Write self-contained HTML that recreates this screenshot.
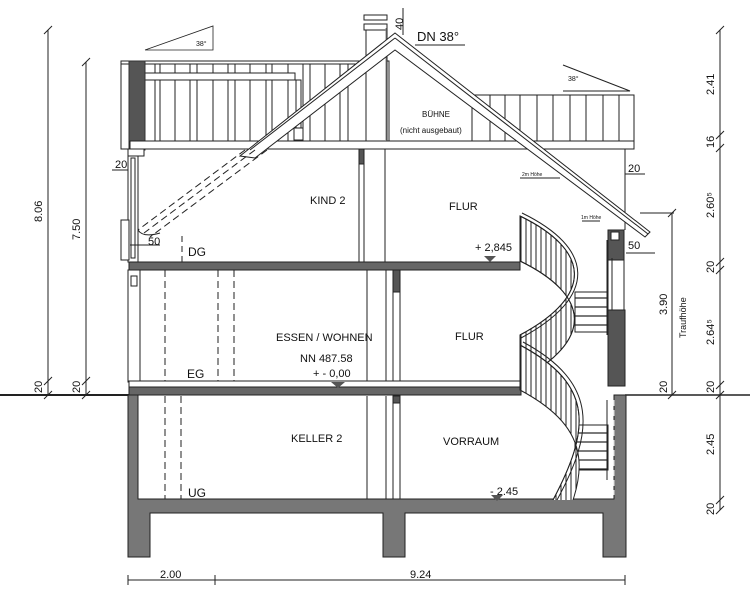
<!DOCTYPE html>
<html><head><meta charset="utf-8"><style>
html,body{margin:0;padding:0;background:#fff}
svg{display:block}
text{font-family:"Liberation Sans",sans-serif;fill:#111}
</style></head><body>
<svg width="750" height="600" viewBox="0 0 750 600" xmlns="http://www.w3.org/2000/svg">
<defs>
<pattern id="vl" width="5" height="10" patternUnits="userSpaceOnUse"><rect width="5" height="10" fill="#fff"/><line x1="1" y1="0" x2="1" y2="10" stroke="#222" stroke-width="1"/></pattern>
<pattern id="hl" width="10" height="9" patternUnits="userSpaceOnUse"><rect width="10" height="9" fill="#fff"/><line x1="0" y1="1" x2="10" y2="1" stroke="#222" stroke-width="1.2"/></pattern>
<clipPath id="stc"><rect x="519" y="210" width="90" height="290"/></clipPath>
</defs>
<g stroke="#222" stroke-width="1" fill="none">
<line x1="0" y1="395" x2="130" y2="395" stroke-width="2"/>
<line x1="625" y1="395" x2="750" y2="395" stroke-width="1.5"/>

<rect x="121" y="61" width="268" height="88" fill="#fff"/>
<g stroke-width="1">
<line x1="155" y1="64" x2="155" y2="141"/><line x1="160" y1="64" x2="160" y2="141"/>
<line x1="175" y1="64" x2="175" y2="141"/><line x1="190" y1="64" x2="190" y2="141"/>
<line x1="197" y1="64" x2="197" y2="141"/><line x1="213" y1="64" x2="213" y2="141"/>
<line x1="228" y1="64" x2="228" y2="141"/><line x1="235" y1="64" x2="235" y2="141"/>
<line x1="250" y1="64" x2="250" y2="141"/><line x1="266" y1="64" x2="266" y2="141"/>
<line x1="272" y1="64" x2="272" y2="141"/><line x1="288" y1="64" x2="288" y2="141"/>
<line x1="303" y1="64" x2="303" y2="141"/><line x1="310" y1="64" x2="310" y2="141"/>
<line x1="325" y1="64" x2="325" y2="141"/><line x1="340" y1="64" x2="340" y2="141"/>
<line x1="348" y1="64" x2="348" y2="141"/>
</g>
<line x1="121" y1="64" x2="365" y2="64"/>
<rect x="140" y="73" width="155" height="7" fill="#fff"/>
<rect x="129" y="61" width="16" height="89" fill="#555" stroke="#333"/>
<rect x="296" y="80" width="5" height="57" fill="#fff"/>
<rect x="294" y="128" width="9" height="12" fill="#fff"/>

<rect x="472" y="95" width="162" height="52" fill="#fff"/>
<g><line x1="490" y1="95" x2="490" y2="147"/><line x1="505" y1="95" x2="505" y2="147"/><line x1="520" y1="95" x2="520" y2="147"/><line x1="537" y1="95" x2="537" y2="147"/><line x1="553" y1="95" x2="553" y2="147"/><line x1="570" y1="95" x2="570" y2="147"/><line x1="586" y1="95" x2="586" y2="147"/><line x1="603" y1="95" x2="603" y2="147"/><line x1="619" y1="95" x2="619" y2="147"/></g>

<rect x="130" y="141" width="504" height="8" fill="#fff"/>
<line x1="625" y1="149" x2="625" y2="230"/>

<rect x="366" y="28" width="21" height="113" fill="#fff"/>
<rect x="364" y="15" width="23" height="5" fill="#fff"/>
<rect x="364" y="24" width="23" height="6" fill="#fff"/>
<line x1="386" y1="28" x2="386" y2="141" stroke="#888"/>

<polygon points="395,33 650,232 645,237 395,50 255,158 240,156" fill="#fff"/>
<line x1="395" y1="38" x2="648" y2="234"/>
<line x1="395" y1="38" x2="250" y2="150"/>
<g stroke-dasharray="7,4">
<line x1="255" y1="150" x2="144" y2="233"/>
<line x1="267" y1="150" x2="150" y2="237"/>
<line x1="245" y1="150" x2="138" y2="230"/>
</g>
<path d="M138 230 Q143 238 160 233" />
<line x1="182" y1="236" x2="182" y2="262" stroke-dasharray="6,4"/>

<rect x="128" y="149" width="10" height="113" fill="#fff"/>
<rect x="131" y="158" width="4" height="100" fill="#fff"/>
<rect x="121" y="220" width="8" height="40" fill="#fff"/>
<rect x="128" y="149" width="16" height="7" fill="#fff"/>

<rect x="359" y="149" width="5" height="113" fill="#fff"/>
<rect x="359" y="149" width="5" height="15" fill="#555"/>
<line x1="385" y1="149" x2="385" y2="262"/>

<rect x="608" y="230" width="16" height="30" fill="#555"/>
<rect x="611" y="232" width="8" height="8" fill="#fff"/>
<line x1="608" y1="258" x2="608" y2="310"/><line x1="624" y1="258" x2="624" y2="310"/>
<line x1="612" y1="258" x2="612" y2="310"/>

<rect x="129" y="262" width="391" height="8" fill="#666" stroke="#222"/>

<rect x="128" y="270" width="12" height="112" fill="#fff"/>
<rect x="131" y="276" width="6" height="10" fill="#fff"/>
<line x1="165" y1="270" x2="165" y2="381" stroke-dasharray="7,4"/>
<line x1="218" y1="270" x2="218" y2="381" stroke-dasharray="7,4"/>
<line x1="234" y1="270" x2="234" y2="381" stroke-dasharray="7,4"/>
<line x1="367" y1="270" x2="367" y2="381"/>
<rect x="393" y="270" width="7" height="111" fill="#fff"/>
<rect x="393" y="270" width="7" height="22" fill="#555"/>
<line x1="386" y1="270" x2="386" y2="381"/>
<rect x="608" y="310" width="17" height="76" fill="#555"/>

<rect x="129" y="381" width="392" height="6" fill="#fff"/>
<rect x="129" y="387" width="392" height="8" fill="#666"/>

<path d="M128 395 H138 V499 H614 V395 H626 V557 H603 V513 H405 V557 H383 V513 H150 V557 H128 Z" fill="#777" stroke="#222"/>
<line x1="614" y1="400" x2="614" y2="495" stroke="#ddd" stroke-dasharray="6,4"/>
<line x1="165" y1="396" x2="165" y2="499" stroke-dasharray="7,4"/>
<line x1="181" y1="396" x2="181" y2="499" stroke-dasharray="7,4"/>
<line x1="367" y1="396" x2="367" y2="499"/>
<line x1="386" y1="396" x2="386" y2="499"/>
<rect x="393" y="396" width="7" height="103" fill="#fff"/>
<rect x="393" y="396" width="7" height="7" fill="#555"/>

<!-- stairs -->
<rect x="575" y="292" width="33" height="40" fill="url(#hl)"/>
<rect x="575" y="425" width="33" height="45" fill="url(#hl)"/>
<g clip-path="url(#stc)">
<path d="M520 216 C590 250 595 295 520 335 L520 380 C595 340 590 295 520 261 Z" fill="url(#vl)"/>
<path d="M520 216 C590 250 595 295 520 335"/>
<path d="M522 213 C594 248 599 296 521 338"/>
<path d="M520 261 C590 295 595 340 520 380"/>
<path d="M520 345 C595 385 590 430 553 500 L553 545 C590 475 595 430 520 390 Z" fill="url(#vl)"/>
<path d="M520 345 C595 385 590 430 553 500"/>
<path d="M523 342 C599 383 594 432 557 500"/>
</g>
<line x1="607" y1="240" x2="607" y2="335"/>
<line x1="607" y1="400" x2="607" y2="480"/>
<line x1="520" y1="216" x2="520" y2="266"/>
<line x1="520" y1="335" x2="520" y2="381"/>
</g>

<g fill="#555">
<polygon points="484,256 496,256 490,262"/>
<polygon points="331,382 345,382 338,388"/>
<polygon points="491,495 503,495 497,501"/>
</g>

<g stroke="#222" fill="none">
<polyline points="145,50 213,26 213,50 145,50" stroke-width="0.8"/>
<polyline points="563,65 630,91 563,91"/>
</g>

<g stroke="#222" stroke-width="1">
<line x1="48" y1="30" x2="48" y2="395"/>
<line x1="86" y1="62" x2="86" y2="395"/>
<line x1="720" y1="30" x2="720" y2="510"/>
<line x1="672" y1="213" x2="672" y2="395"/>
<line x1="640" y1="213" x2="674" y2="213"/>
<line x1="128" y1="580" x2="625" y2="580"/>
<line x1="215" y1="575" x2="215" y2="585"/>
<line x1="128" y1="575" x2="128" y2="585"/>
<line x1="625" y1="575" x2="625" y2="585"/>
<line x1="130" y1="245" x2="160" y2="245"/>
<line x1="626" y1="253" x2="655" y2="253"/>
<line x1="112" y1="170" x2="128" y2="170"/>
<line x1="625" y1="174" x2="645" y2="174"/>
<line x1="403" y1="8" x2="403" y2="35"/>
<line x1="415" y1="45" x2="465" y2="45"/>
<line x1="520" y1="178" x2="560" y2="178"/>
<line x1="582" y1="221" x2="600" y2="221"/>
<g>
<line x1="44" y1="34" x2="52" y2="26"/><line x1="44" y1="399" x2="52" y2="391"/><line x1="44" y1="385" x2="52" y2="377"/>
<line x1="82" y1="66" x2="90" y2="58"/><line x1="82" y1="399" x2="90" y2="391"/><line x1="82" y1="385" x2="90" y2="377"/>
<line x1="716" y1="34" x2="724" y2="26"/><line x1="716" y1="139" x2="724" y2="131"/><line x1="716" y1="152" x2="724" y2="144"/>
<line x1="716" y1="266" x2="724" y2="258"/><line x1="716" y1="274" x2="724" y2="266"/><line x1="716" y1="389" x2="724" y2="381"/>
<line x1="716" y1="399" x2="724" y2="391"/><line x1="716" y1="504" x2="724" y2="496"/><line x1="716" y1="514" x2="724" y2="506"/>
<line x1="668" y1="399" x2="676" y2="391"/><line x1="668" y1="217" x2="676" y2="209"/>
</g>
</g>

<g font-size="11">
<text x="310" y="204">KIND 2</text>
<text x="449" y="210">FLUR</text>
<text x="276" y="341">ESSEN / WOHNEN</text>
<text x="455" y="340">FLUR</text>
<text x="300" y="362">NN 487.58</text>
<text x="313" y="377">+ - 0,00</text>
<text x="291" y="442">KELLER 2</text>
<text x="443" y="445">VORRAUM</text>
<text x="475" y="251">+ 2,845</text>
<text x="490" y="495">- 2.45</text>
<text x="188" y="256" font-size="12">DG</text>
<text x="187" y="378" font-size="12">EG</text>
<text x="188" y="497" font-size="12">UG</text>
<text x="417" y="41" font-size="13">DN 38°</text>
<text x="422" y="117" font-size="8">BÜHNE</text>
<text x="400" y="133" font-size="8">(nicht ausgebaut)</text>
<text x="196" y="46" font-size="7">38°</text>
<text x="568" y="81" font-size="7">38°</text>
<text x="522" y="176" font-size="5">2m Höhe</text>
<text x="581" y="219" font-size="5">1m Höhe</text>
<text x="148" y="245" font-size="11">50</text>
<text x="628" y="249" font-size="11">50</text>
<text x="115" y="168" font-size="11">20</text>
<text x="628" y="172" font-size="11">20</text>
<text x="160" y="578" font-size="11">2.00</text>
<text x="410" y="578" font-size="11">9.24</text>
</g>
<g font-size="11">
<text transform="translate(42,222) rotate(-90)">8.06</text>
<text transform="translate(80,240) rotate(-90)">7.50</text>
<text transform="translate(42,393) rotate(-90)">20</text>
<text transform="translate(80,393) rotate(-90)">20</text>
<text transform="translate(667,393) rotate(-90)">20</text>
<text transform="translate(667,315) rotate(-90)">3.90</text>
<text transform="translate(686,338) rotate(-90)" font-size="9">Traufhöhe</text>
<text transform="translate(714,95) rotate(-90)">2.41</text>
<text transform="translate(714,148) rotate(-90)">16</text>
<text transform="translate(714,218) rotate(-90)">2.60⁵</text>
<text transform="translate(714,273) rotate(-90)">20</text>
<text transform="translate(714,345) rotate(-90)">2.64⁵</text>
<text transform="translate(714,393) rotate(-90)">20</text>
<text transform="translate(714,455) rotate(-90)">2.45</text>
<text transform="translate(714,515) rotate(-90)">20</text>
<text transform="translate(403,30) rotate(-90)">40</text>
</g>
</svg>
</body></html>
